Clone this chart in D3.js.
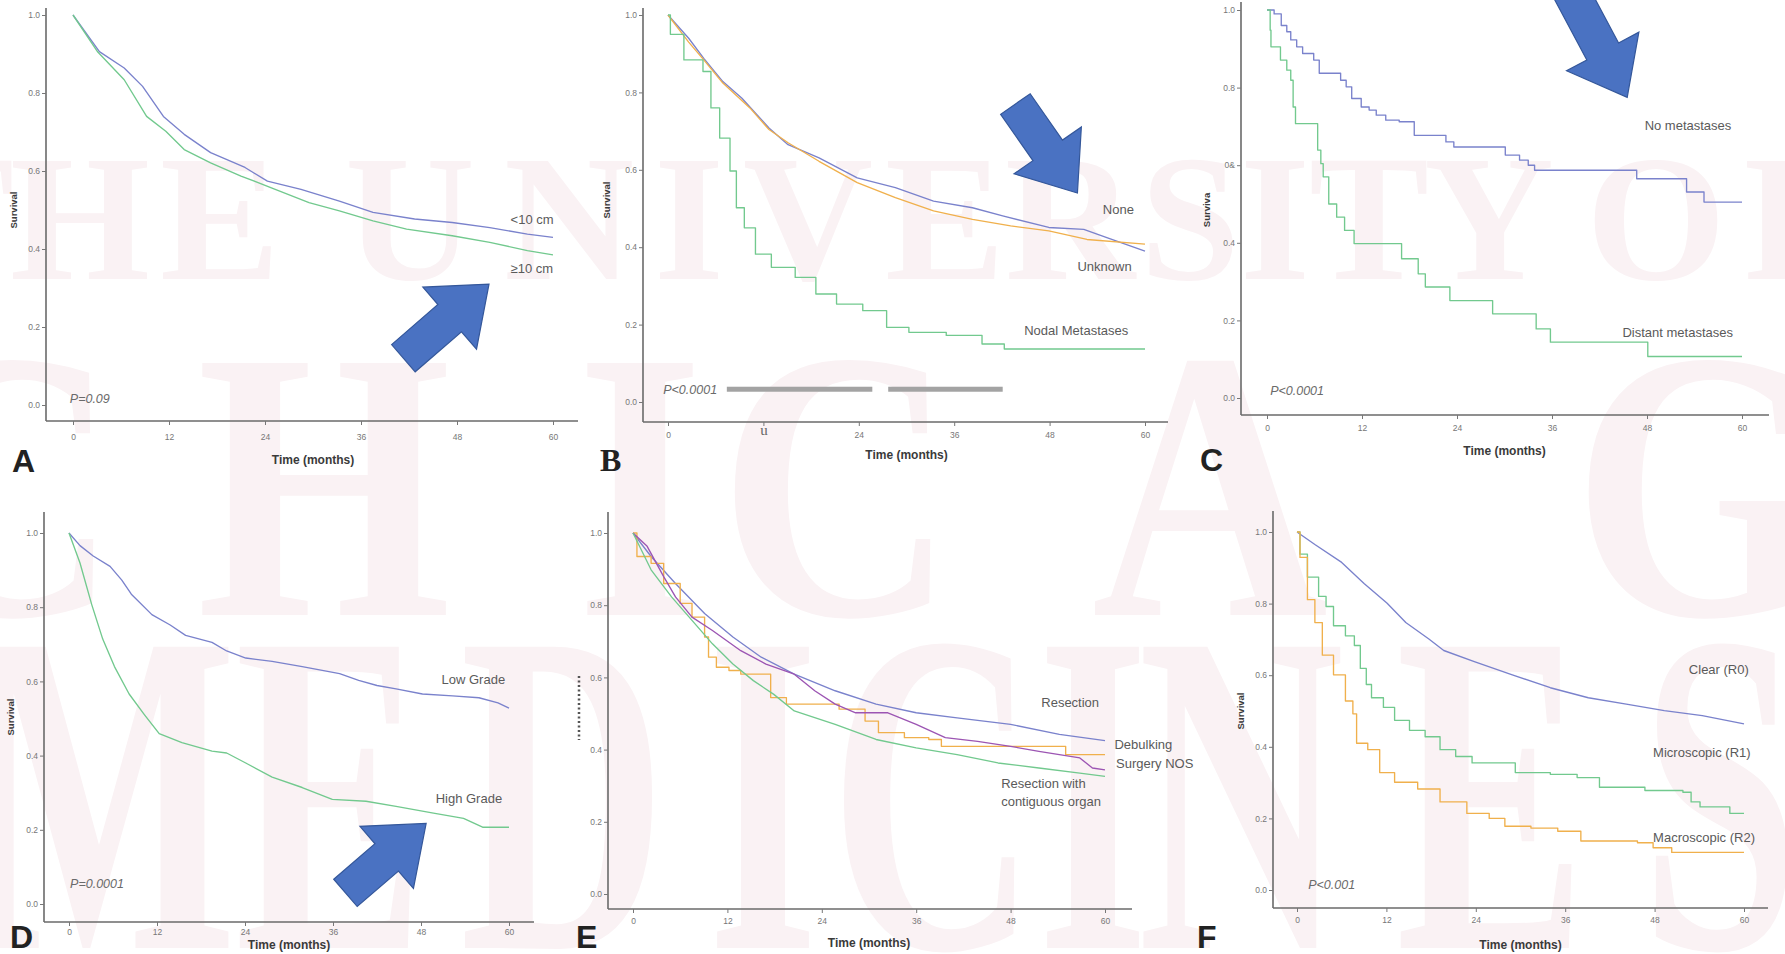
<!DOCTYPE html>
<html><head><meta charset="utf-8">
<script src="https://cdn.jsdelivr.net/npm/d3@7"></script>
<style>body{margin:0;background:#fff}svg{display:block}</style>
</head><body>
<svg id="c" width="1785" height="954"></svg>
<script>
// ---------------- DATA ----------------
const yTicks = [0, 0.2, 0.4, 0.6, 0.8, 1.0];
const xTicks = [0, 12, 24, 36, 48, 60];
const yTickLabels = ["0.0", "0.2", "0.4", "0.6", "0.8", "1.0"];
const yTickLabelsC = ["0.0", "0.2", "0.4", "0&", "0.8", "1.0"];
const xTickLabels = ["0", "12", "24", "36", "48", "60"];
const xTickLabelsB = ["0", "u", "24", "36", "48", "60"];

// Panel A: tumour size
const aLess10 = [[0,1],[3.3,0.906],[6.4,0.864],[8.7,0.817],[11.3,0.74],[13.9,0.694],[17.2,0.647],[21.5,0.609],[24.3,0.574],[28.5,0.553],[33.3,0.523],[37.5,0.494],[42.7,0.477],[47.4,0.468],[52.1,0.455],[56.8,0.438],[60,0.43]];
const aGe10 = [[0,1],[3.1,0.905],[6.4,0.834],[9.2,0.74],[11.6,0.702],[13.9,0.655],[17.2,0.621],[21,0.587],[24.8,0.557],[29.5,0.519],[33.3,0.498],[37.5,0.472],[41.7,0.451],[47.4,0.434],[52.1,0.417],[56.8,0.396],[60,0.385]];
// Panel B: nodal status
const bNone = [[0,1],[2.6,0.94],[4.5,0.888],[6.9,0.828],[9.3,0.785],[12.7,0.708],[15.1,0.665],[19,0.631],[23.8,0.579],[28.6,0.554],[33.4,0.519],[38.3,0.502],[42.1,0.481],[47.9,0.451],[52.3,0.446],[55.2,0.425],[60,0.39]];
const bUnknown = [[0,1],[2.6,0.93],[4.5,0.884],[6.9,0.824],[10.3,0.76],[12.7,0.704],[15.1,0.67],[19,0.622],[23.8,0.567],[28.6,0.528],[33.4,0.494],[38.3,0.472],[43.1,0.455],[47.9,0.442],[52.7,0.42],[60,0.408]];
const bNodal = [[0,1],[0.3,0.95],[2,0.884],[4.4,0.854],[5.4,0.76],[6.5,0.682],[7.8,0.597],[8.6,0.502],[9.6,0.45],[11,0.382],[13,0.348],[16,0.322],[18.6,0.279],[21.2,0.253],[24.5,0.236],[27.5,0.193],[30.3,0.18],[35,0.172],[39.5,0.15],[42.3,0.137],[60,0.137]];
const bBars = [[7.4, 25.7], [27.7, 42.1]];
// Panel C: metastases
const cNoMet = [[0,1],[0.9,0.99],[1.8,0.96],[2.5,0.944],[3,0.923],[3.75,0.905],[4.5,0.888],[5.9,0.871],[6.6,0.837],[9.3,0.819],[10,0.802],[10.7,0.772],[11.9,0.75],[12.9,0.742],[13.8,0.729],[15,0.716],[16.7,0.712],[18.6,0.677],[22.6,0.66],[23.6,0.647],[30.1,0.626],[31.9,0.613],[33,0.6],[33.8,0.587],[46.7,0.565],[53,0.531],[55.2,0.505],[60,0.505]];
const cDistant = [[0,1],[0.4,0.948],[0.5,0.905],[1.7,0.871],[2.5,0.845],[3,0.819],[3.3,0.75],[3.6,0.707],[6.4,0.639],[6.8,0.604],[7.1,0.57],[7.8,0.5],[8.8,0.466],[9.8,0.432],[11,0.398],[17,0.359],[19.1,0.32],[20,0.286],[23.1,0.251],[28.5,0.217],[34,0.178],[35.8,0.144],[48.1,0.107],[60,0.107]];
// Panel D: grade
const dLow = [[0,1],[1.5,0.966],[3.3,0.938],[5.6,0.91],[7.2,0.873],[8.5,0.835],[11.3,0.78],[13.8,0.752],[15.9,0.724],[19.5,0.705],[21.5,0.682],[24.1,0.663],[27.7,0.654],[31.8,0.64],[36.9,0.621],[39.5,0.603],[42,0.589],[44.6,0.58],[48.2,0.566],[52.3,0.561],[55.9,0.556],[58.5,0.542],[60,0.528]];
const dHigh = [[0,1],[1.5,0.919],[3.1,0.807],[4.6,0.714],[6.2,0.64],[8.2,0.566],[10.3,0.51],[12.3,0.459],[15.4,0.435],[19.5,0.412],[21.5,0.407],[24.1,0.38],[27.7,0.342],[31.8,0.314],[35.9,0.282],[40.5,0.277],[44.6,0.263],[49.7,0.245],[53.8,0.231],[56.4,0.207],[60,0.207]];
// Panel E: surgery type
const eResection = [[0,1],[2.3,0.935],[5.4,0.86],[9.1,0.777],[12.7,0.712],[16.3,0.656],[20.5,0.609],[25.7,0.563],[30.9,0.526],[36,0.502],[41.2,0.488],[48,0.47],[54.2,0.442],[60,0.425]];
const eDebulking = [[0,1],[0.5,0.935],[2.3,0.916],[3.9,0.86],[6,0.805],[7.5,0.767],[9.1,0.712],[9.6,0.656],[10.6,0.628],[12.2,0.619],[13.7,0.609],[17.5,0.544],[19.5,0.526],[26.2,0.512],[29.5,0.479],[31.2,0.447],[34.5,0.433],[37.6,0.428],[39.2,0.409],[55,0.386],[60,0.386]];
const eContig = [[0,1],[1.8,0.963],[3.9,0.879],[5.4,0.823],[7.5,0.767],[10.1,0.73],[13.7,0.674],[16.9,0.637],[20.5,0.609],[23.1,0.563],[25.7,0.526],[28.3,0.502],[32.4,0.502],[36,0.47],[39.7,0.433],[43.8,0.423],[48,0.409],[51.6,0.395],[56.8,0.377],[58.4,0.349],[60,0.344]];
const eOther = [[0,1],[2.3,0.898],[4.9,0.823],[7.5,0.758],[10.1,0.693],[12.7,0.637],[15.3,0.591],[17.9,0.553],[20.5,0.507],[25.7,0.47],[30.9,0.428],[36,0.405],[41.2,0.386],[46.4,0.363],[51.6,0.349],[56.8,0.335],[60,0.326]];
// Panel F: margins
const fR0 = [[0,1],[2.4,0.965],[6,0.915],[9,0.856],[12.1,0.801],[14.6,0.747],[17.7,0.701],[19.7,0.669],[23.8,0.638],[28.9,0.601],[34,0.565],[39.1,0.537],[44.2,0.519],[49.3,0.501],[54.4,0.487],[60,0.464]];
const fR1 = [[0,1],[0.4,0.938],[1.4,0.874],[2.9,0.82],[3.9,0.792],[4.9,0.738],[6.5,0.71],[7.7,0.683],[8.5,0.619],[9.3,0.574],[10,0.537],[11.6,0.51],[13.1,0.474],[15.1,0.446],[17.2,0.428],[19.2,0.392],[21.3,0.373],[23.5,0.355],[29.3,0.328],[34,0.323],[37.6,0.314],[40.6,0.287],[46.7,0.278],[51.8,0.273],[52.9,0.246],[54.1,0.232],[58.1,0.214],[60,0.214]];
const fR2 = [[0,1],[0.4,0.929],[1.4,0.811],[2.4,0.747],[3.4,0.656],[4.9,0.601],[6.5,0.528],[7.5,0.492],[8,0.41],[9.5,0.392],[11.1,0.328],[13.1,0.301],[16.2,0.282],[19.2,0.246],[22.8,0.214],[25.8,0.2],[27.9,0.178],[31.4,0.173],[35,0.164],[38.1,0.137],[45.7,0.132],[47.8,0.118],[50.3,0.105],[60,0.105]];

// ---------------- STYLE ----------------
const COL = {blue:"#7a82cc", green:"#72c98e", orange:"#f0b04c", purple:"#9c55b3"};
const SANS = "'Liberation Sans', Arial, sans-serif";
const SERIF = "'Liberation Serif', 'Times New Roman', serif";

const svg = d3.select("#c");
svg.append("rect").attr("width",1785).attr("height",954).attr("fill","#fff");

// faint watermark behind the charts
const wmRows = [
  {base:279, fs:180, sx:1.0, letters:[["T",-46],["H",80],["E",220],["U",410],["N",569],["I",689],["V",808],["E",945],["R",1070],["S",1190],["I",1275],["T",1369],["Y",1489],["O",1656],["F",1799]]},
  {base:615, fs:385, sx:0.85, letters:[["C",0],["H",324],["I",640],["C",837],["A",1210],["G",1700]]},
  {base:948, fs:460, sx:0.62, letters:[["M",102],["E",330],["D",563],["I",763],["C",933],["I",1093],["N",1241],["E",1491],["S",1720]]}
];
const wm = svg.append("g").attr("fill","#faf2f4").attr("font-family",SERIF).attr("font-weight","bold");
wmRows.forEach(r => r.letters.forEach(([ch,x]) => {
  wm.append("text").attr("transform",`translate(${x},${r.base}) scale(${r.sx},1)`)
    .attr("text-anchor","middle").attr("font-size",r.fs).text(ch);
}));

function drawArrow(g, tail, tip) {
  const dx = tip[0]-tail[0], dy = tip[1]-tail[1];
  const L = Math.hypot(dx,dy), ang = Math.atan2(dy,dx)*180/Math.PI;
  const sw = 36, hw = 82, hl = 52;
  const pts = [[0,-sw/2],[L-hl,-sw/2],[L-hl,-hw/2],[L,0],[L-hl,hw/2],[L-hl,sw/2],[0,sw/2]];
  g.append("path").attr("d", d3.line()(pts)+"Z")
    .attr("transform",`translate(${tail[0]},${tail[1]}) rotate(${ang})`)
    .attr("fill","#4a72c2").attr("stroke","#34579a").attr("stroke-width",1.2);
}

function panel(cfg) {
  const g = svg.append("g");
  const x = d3.scaleLinear().domain([0,60]).range(cfg.px);
  const y = d3.scaleLinear().domain([0,1]).range(cfg.py);
  g.append("line").attr("x1",cfg.axL).attr("x2",cfg.axL).attr("y1",cfg.axT).attr("y2",cfg.axB)
    .attr("stroke","#6a6a6a").attr("stroke-width",1.6);
  g.append("line").attr("x1",cfg.axL).attr("x2",cfg.axR).attr("y1",cfg.axB).attr("y2",cfg.axB)
    .attr("stroke","#6a6a6a").attr("stroke-width",1.6);
  const ya = g.append("g").attr("transform",`translate(${cfg.axL},0)`)
    .call(d3.axisLeft(y).tickValues(yTicks).tickSize(4).tickPadding(2)
      .tickFormat((d,i)=>cfg.yLabels[i]));
  ya.select(".domain").remove();
  ya.selectAll("line").attr("stroke","#777");
  ya.selectAll("text").attr("font-family",SANS).attr("font-size",8.5).attr("fill","#777");
  const xa = g.append("g").attr("transform",`translate(0,${cfg.axB})`)
    .call(d3.axisBottom(x).tickValues(xTicks).tickSize(4).tickPadding(cfg.tickPad)
      .tickFormat((d,i)=>cfg.xLabels[i]));
  xa.select(".domain").remove();
  xa.selectAll("line").attr("stroke","#777");
  xa.selectAll("text").attr("font-family",SANS).attr("font-size",8.5).attr("fill","#777");
  if (cfg.serifTick) {
    xa.selectAll("text").filter((d,i)=>cfg.xLabels[i]==="u")
      .attr("font-family",SERIF).attr("font-size",15).attr("fill","#666").attr("dy","0.2em");
  }
  g.append("text").attr("x",(cfg.px[0]+cfg.px[1])/2).attr("y",cfg.titleY)
    .attr("text-anchor","middle").attr("font-family",SANS).attr("font-weight","bold")
    .attr("font-size",12).attr("fill","#3a3a3a").text("Time (months)");
  if (cfg.yTitle) {
    g.append("text").attr("transform",`translate(${cfg.yTitleX},${cfg.yTitleY}) rotate(-90)`)
      .attr("text-anchor","middle").attr("font-family",SANS).attr("font-weight","bold")
      .attr("font-size",9.5).attr("fill","#3a3a3a").text(cfg.yTitle);
  }
  if (cfg.dashTitle) {
    g.append("line").attr("x1",cfg.yTitleX).attr("x2",cfg.yTitleX)
      .attr("y1",cfg.yTitleY-32).attr("y2",cfg.yTitleY+32)
      .attr("stroke","#555").attr("stroke-width",2.5).attr("stroke-dasharray","2,2.5");
  }
  (cfg.bars||[]).forEach(b => {
    g.append("rect").attr("x",x(b[0])).attr("width",x(b[1])-x(b[0]))
      .attr("y",y(cfg.barV)-2.5).attr("height",5).attr("fill","#a3a3a3");
  });
  cfg.series.forEach(s => {
    const line = d3.line().x(d=>x(d[0])).y(d=>y(d[1]))
      .curve(s.step ? d3.curveStepAfter : d3.curveLinear);
    g.append("path").attr("d",line(s.data)).attr("fill","none")
      .attr("stroke",s.color).attr("stroke-width",1.35).attr("stroke-linejoin","round");
  });
  cfg.labels.forEach(([t,tx,tv]) => {
    g.append("text").attr("x",x(tx)).attr("y",y(tv)).attr("dy","0.35em")
      .attr("font-family",SANS).attr("font-size",13).attr("fill","#5a5a5a").text(t);
  });
  if (cfg.p) {
    g.append("text").attr("x",x(cfg.p[1])).attr("y",y(cfg.p[2])).attr("dy","0.35em")
      .attr("font-family",SANS).attr("font-style","italic").attr("font-size",12.5)
      .attr("fill","#6a6a6a").text(cfg.p[0]);
  }
  if (cfg.arrow) drawArrow(g, [x(cfg.arrow[0][0]), y(cfg.arrow[0][1])], [x(cfg.arrow[1][0]), y(cfg.arrow[1][1])]);
  g.append("text").attr("x",cfg.letter[1]).attr("y",cfg.letter[2])
    .attr("font-family",cfg.letterSerif?SERIF:SANS).attr("font-weight","bold")
    .attr("font-size",32).attr("fill","#222").text(cfg.letter[0]);
}

panel({px:[73,553], py:[405,15], axL:46, axT:8, axB:421, axR:578, tickPad:9, titleY:464,
  yLabels:yTickLabels, xLabels:xTickLabels, yTitle:"Survival", yTitleX:17, yTitleY:210,
  series:[{data:aLess10,color:COL.blue},{data:aGe10,color:COL.green}],
  labels:[["<10 cm",54.7,0.477],["≥10 cm",54.7,0.349]],
  p:["P=0.09",-0.4,0.017], arrow:[[41.3,0.12],[52,0.31]], letter:["A",12,472]});

panel({px:[668,1145], py:[402,15], axL:643, axT:8, axB:422, axR:1168, tickPad:6, titleY:459,
  yLabels:yTickLabels, xLabels:xTickLabelsB, serifTick:true, yTitle:"Survival", yTitleX:610, yTitleY:200,
  bars:bBars, barV:0.033,
  series:[{data:bNone,color:COL.blue},{data:bUnknown,color:COL.orange},{data:bNodal,color:COL.green,step:true}],
  labels:[["None",54.7,0.498],["Unknown",51.5,0.35],["Nodal Metastases",44.8,0.185]],
  p:["P<0.0001",-0.6,0.033], arrow:[[43.7,0.77],[51.5,0.54]], letter:["B",600,471], letterSerif:true});

panel({px:[1267,1742], py:[398,10], axL:1241, axT:2, axB:415, axR:1769, tickPad:6, titleY:455,
  yLabels:yTickLabelsC, xLabels:xTickLabels, yTitle:"Surviva", yTitleX:1210, yTitleY:210,
  series:[{data:cNoMet,color:COL.blue,step:true},{data:cDistant,color:COL.green,step:true}],
  labels:[["No metastases",47.7,0.703],["Distant metastases",44.9,0.17]],
  p:["P<0.0001",0.4,0.018], arrow:[[38.3,1.05],[45.5,0.775]], letter:["C",1200,471]});

panel({px:[69,509], py:[904,533], axL:44, axT:512, axB:922, axR:534, tickPad:3, titleY:949,
  yLabels:yTickLabels, xLabels:xTickLabels, yTitle:"Survival", yTitleX:14, yTitleY:717,
  series:[{data:dLow,color:COL.blue},{data:dHigh,color:COL.green}],
  labels:[["Low Grade",50.8,0.606],["High Grade",50,0.285]],
  p:["P=0.0001",0.15,0.055], arrow:[[37.7,0.03],[48.7,0.217]], letter:["D",10,948]});

panel({px:[633,1105], py:[894,533], axL:608, axT:512, axB:909, axR:1132, tickPad:5, titleY:947,
  yLabels:yTickLabels, xLabels:xTickLabels, dashTitle:true, yTitleX:579, yTitleY:708,
  series:[{data:eResection,color:COL.blue},{data:eDebulking,color:COL.orange,step:true},{data:eContig,color:COL.purple},{data:eOther,color:COL.green}],
  labels:[["Resection",51.9,0.53],["Debulking",61.2,0.414],["Surgery NOS",61.4,0.363],["Resection with",46.8,0.307],["contiguous organ",46.8,0.256]],
  letter:["E",576,948]});

panel({px:[1297,1744], py:[890,532], axL:1273, axT:511, axB:908, axR:1768, tickPad:5, titleY:949,
  yLabels:yTickLabels, xLabels:xTickLabels, yTitle:"Survival", yTitleX:1244, yTitleY:711,
  series:[{data:fR0,color:COL.blue},{data:fR1,color:COL.green,step:true},{data:fR2,color:COL.orange,step:true}],
  labels:[["Clear (R0)",52.6,0.617],["Microscopic (R1)",47.8,0.383],["Macroscopic (R2)",47.8,0.146]],
  p:["P<0.001",1.5,0.016], letter:["F",1197,948]});
</script>
</body></html>
